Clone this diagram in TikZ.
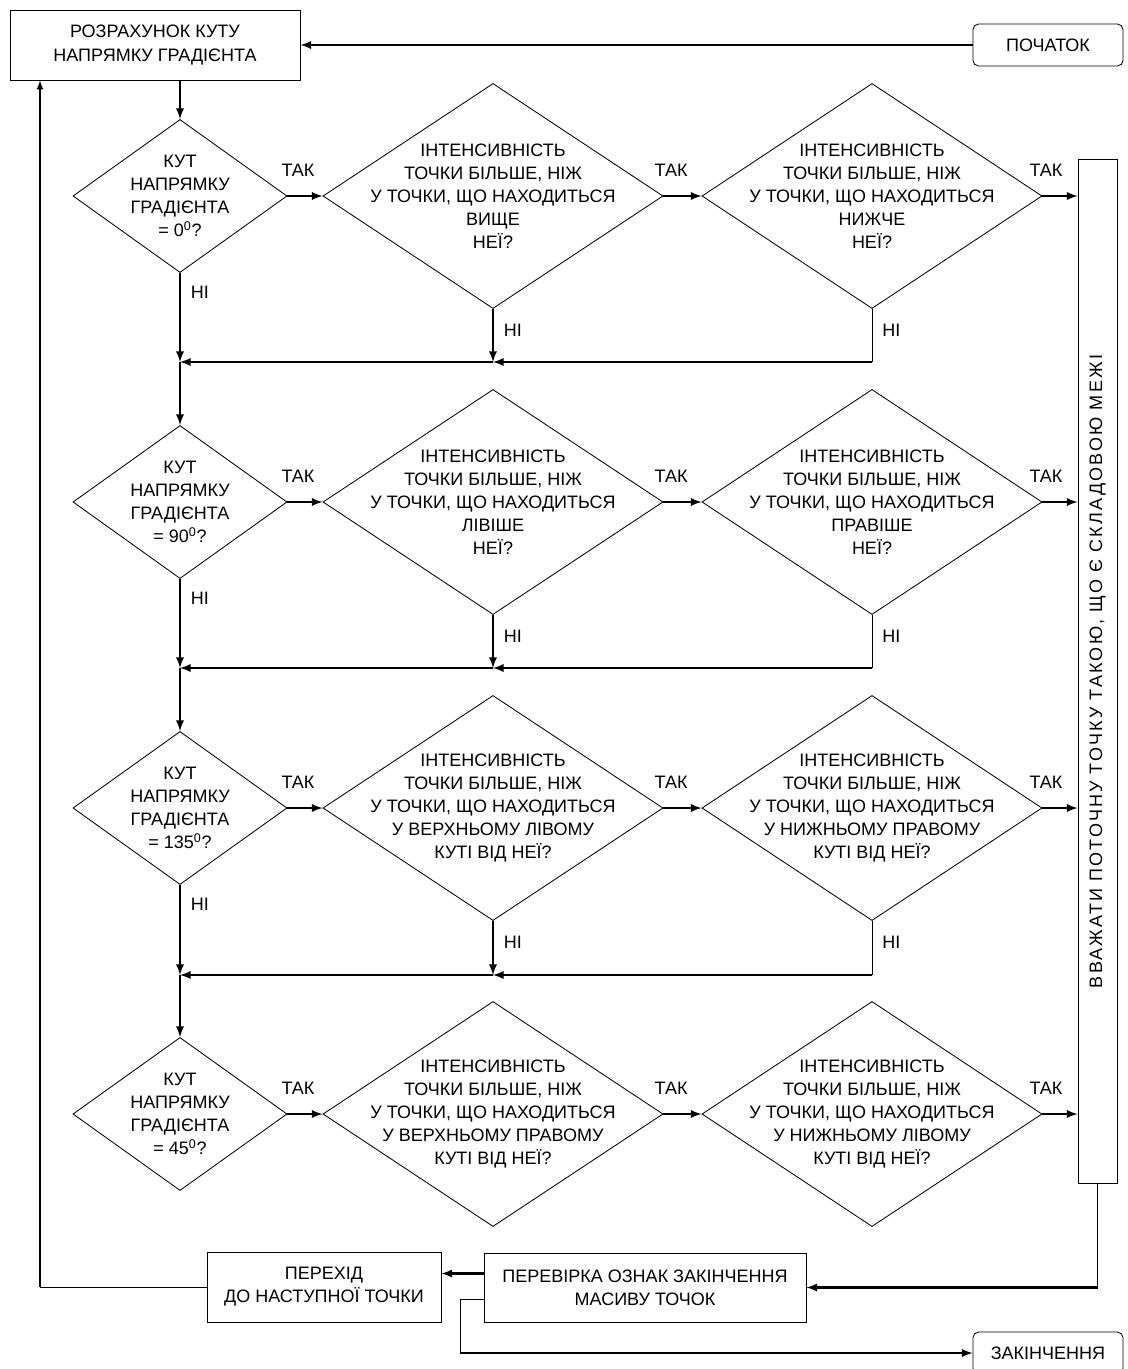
\documentclass[tikz,border=0pt]{standalone}
\usepackage{fontspec}
\setmainfont{Liberation Sans}
\usetikzlibrary{shapes.geometric,calc}

\begin{document}
\begin{tikzpicture}[x=0.025cm,y=-0.025cm,
    every node/.style={font=\fontsize{12.8}{16.4}\selectfont},
    box/.style={draw,line width=0.6pt,align=center,minimum height=1.75cm},
    term/.style={draw,line width=0.6pt,rounded corners=4pt,minimum width=3.75cm,minimum height=1.05cm},
    ask/.style={draw,line width=0.6pt,diamond,inner sep=0pt,minimum width=5.35cm,minimum height=3.825cm},
    test/.style={draw,line width=0.6pt,diamond,inner sep=0pt,minimum width=8.5cm,minimum height=5.625cm},
    every label/.style={align=center},
    link/.style={-latex,line width=1.6pt},
    wire/.style={line width=0.7pt},
    tag/.style={inner sep=1pt}]
  \useasboundingbox (0,0) rectangle (1127,1369);

  \node[box,minimum width=7.25cm] (grad) at (155,45) {РОЗРАХУНОК КУТУ\\НАПРЯМКУ ГРАДІЄНТА};
  \node[term] (start) at (1048,45) {ПОЧАТОК};
  \node[draw,line width=0.6pt,rotate=90,minimum width=25.575cm,minimum height=0.975cm] (mark) at (1097.5,671.5)
    {\addfontfeatures{LetterSpace=12}ВВАЖАТИ ПОТОЧНУ ТОЧКУ ТАКОЮ, ЩО Є СКЛАДОВОЮ МЕЖІ};

  % 0 degrees
  \node[ask,label={center:КУТ\\НАПРЯМКУ\\ГРАДІЄНТА\\= 0\textsuperscript{0}?}] (a1) at (180,196) {};
  \node[test,label={center:ІНТЕНСИВНІСТЬ\\ТОЧКИ БІЛЬШЕ, НІЖ\\У ТОЧКИ, ЩО НАХОДИТЬСЯ\\ВИЩЕ\\НЕЇ?}] (b1) at (493,196) {};
  \node[test,label={center:ІНТЕНСИВНІСТЬ\\ТОЧКИ БІЛЬШЕ, НІЖ\\У ТОЧКИ, ЩО НАХОДИТЬСЯ\\НИЖЧЕ\\НЕЇ?}] (c1) at (872,196) {};
  \coordinate (j1) at (180,362);
  \coordinate (k1) at (493,362);
  \coordinate (m1) at (872,362);

  % 90 degrees
  \node[ask,label={center:КУТ\\НАПРЯМКУ\\ГРАДІЄНТА\\= 90\textsuperscript{0}?}] (a2) at (180,502) {};
  \node[test,label={center:ІНТЕНСИВНІСТЬ\\ТОЧКИ БІЛЬШЕ, НІЖ\\У ТОЧКИ, ЩО НАХОДИТЬСЯ\\ЛІВІШЕ\\НЕЇ?}] (b2) at (493,502) {};
  \node[test,label={center:ІНТЕНСИВНІСТЬ\\ТОЧКИ БІЛЬШЕ, НІЖ\\У ТОЧКИ, ЩО НАХОДИТЬСЯ\\ПРАВІШЕ\\НЕЇ?}] (c2) at (872,502) {};
  \coordinate (j2) at (180,668);
  \coordinate (k2) at (493,668);
  \coordinate (m2) at (872,668);

  % 135 degrees
  \node[ask,label={center:КУТ\\НАПРЯМКУ\\ГРАДІЄНТА\\= 135\textsuperscript{0}?}] (a3) at (180,808) {};
  \node[test,label={center:ІНТЕНСИВНІСТЬ\\ТОЧКИ БІЛЬШЕ, НІЖ\\У ТОЧКИ, ЩО НАХОДИТЬСЯ\\У ВЕРХНЬОМУ ЛІВОМУ\\КУТІ ВІД НЕЇ?}] (b3) at (493,808) {};
  \node[test,label={center:ІНТЕНСИВНІСТЬ\\ТОЧКИ БІЛЬШЕ, НІЖ\\У ТОЧКИ, ЩО НАХОДИТЬСЯ\\У НИЖНЬОМУ ПРАВОМУ\\КУТІ ВІД НЕЇ?}] (c3) at (872,808) {};
  \coordinate (j3) at (180,975);
  \coordinate (k3) at (493,975);
  \coordinate (m3) at (872,975);

  % 45 degrees
  \node[ask,label={center:КУТ\\НАПРЯМКУ\\ГРАДІЄНТА\\= 45\textsuperscript{0}?}] (a4) at (180,1114) {};
  \node[test,label={center:ІНТЕНСИВНІСТЬ\\ТОЧКИ БІЛЬШЕ, НІЖ\\У ТОЧКИ, ЩО НАХОДИТЬСЯ\\У ВЕРХНЬОМУ ПРАВОМУ\\КУТІ ВІД НЕЇ?}] (b4) at (493,1114) {};
  \node[test,label={center:ІНТЕНСИВНІСТЬ\\ТОЧКИ БІЛЬШЕ, НІЖ\\У ТОЧКИ, ЩО НАХОДИТЬСЯ\\У НИЖНЬОМУ ЛІВОМУ\\КУТІ ВІД НЕЇ?}] (c4) at (872,1114) {};

  \node[box,minimum width=8.05cm,minimum height=1.725cm] (check) at (645,1287.5) {ПЕРЕВІРКА ОЗНАК ЗАКІНЧЕННЯ\\МАСИВУ ТОЧОК};
  \node[box,minimum width=5.85cm] (next) at (324,1287) {ПЕРЕХІД\\ДО НАСТУПНОЇ ТОЧКИ};
  \node[term] (stop) at (1048,1353) {ЗАКІНЧЕННЯ};

  \draw[link] (start) -- (grad);
  \draw[link] (grad.south -| a1.north) -- (a1.north);

  \draw[link] (a1) -- node[tag,above=12pt,pos=0.3] {ТАК} (b1);
  \draw[link] (b1) -- node[tag,above=12pt,pos=0.2] {ТАК} (c1);
  \draw[link] (c1) -- node[tag,above=12pt,pos=0.1] {ТАК} (c1 -| mark.north);
  \draw[link] (a1) -- node[tag,right=6pt,pos=0.22] {НІ} (j1);
  \draw[link] (b1) -- node[tag,right=6pt,pos=0.4] {НІ} (k1);
  \draw[wire] (c1) -- node[tag,right=6pt,pos=0.4] {НІ} (m1);
  \draw[link] (m1) -- (k1);
  \draw[link] (k1) -- (j1);
  \draw[link] (j1) -- (a2);

  \draw[link] (a2) -- node[tag,above=12pt,pos=0.3] {ТАК} (b2);
  \draw[link] (b2) -- node[tag,above=12pt,pos=0.2] {ТАК} (c2);
  \draw[link] (c2) -- node[tag,above=12pt,pos=0.1] {ТАК} (c2 -| mark.north);
  \draw[link] (a2) -- node[tag,right=6pt,pos=0.22] {НІ} (j2);
  \draw[link] (b2) -- node[tag,right=6pt,pos=0.4] {НІ} (k2);
  \draw[wire] (c2) -- node[tag,right=6pt,pos=0.4] {НІ} (m2);
  \draw[link] (m2) -- (k2);
  \draw[link] (k2) -- (j2);
  \draw[link] (j2) -- (a3);

  \draw[link] (a3) -- node[tag,above=12pt,pos=0.3] {ТАК} (b3);
  \draw[link] (b3) -- node[tag,above=12pt,pos=0.2] {ТАК} (c3);
  \draw[link] (c3) -- node[tag,above=12pt,pos=0.1] {ТАК} (c3 -| mark.north);
  \draw[link] (a3) -- node[tag,right=6pt,pos=0.22] {НІ} (j3);
  \draw[link] (b3) -- node[tag,right=6pt,pos=0.4] {НІ} (k3);
  \draw[wire] (c3) -- node[tag,right=6pt,pos=0.4] {НІ} (m3);
  \draw[link] (m3) -- (k3);
  \draw[link] (k3) -- (j3);
  \draw[link] (j3) -- (a4);

  \draw[link] (a4) -- node[tag,above=12pt,pos=0.3] {ТАК} (b4);
  \draw[link] (b4) -- node[tag,above=12pt,pos=0.2] {ТАК} (c4);
  \draw[link] (c4) -- node[tag,above=12pt,pos=0.1] {ТАК} (c4 -| mark.north);

  % bottom part
  \coordinate (drop) at (mark.west |- check.east);
  \draw[wire] (mark.west) -- (drop);
  \draw[link] (drop) -- (check.east);
  \coordinate (out) at ([yshift=0.35cm]check.west);
  \draw[link] (out) -- (out -| next.east);
  \coordinate (back) at (40,1287);
  \draw[wire] (next.west) -- (back);
  \draw[link,line width=1.2pt] (back) -- (back |- grad.south);
  \coordinate (fork) at ([yshift=-0.3cm]check.west);
  \coordinate (bend) at (460,1353);
  \draw[wire] (fork) -| (bend);
  \draw[link] (bend) -- (stop);
\end{tikzpicture}
\end{document}
